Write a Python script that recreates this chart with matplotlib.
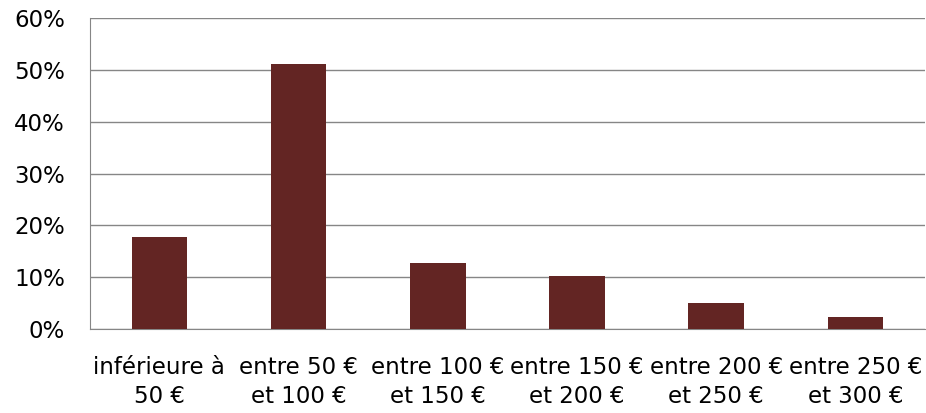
import matplotlib.pyplot as plt
from matplotlib.ticker import PercentFormatter

categories = ['inférieure à\n50 €', 'entre 50 €\net 100 €', 'entre 100 €\net 150 €',
              'entre 150 €\net 200 €', 'entre 200 €\net 250 €', 'entre 250 €\net 300 €']
shares = [17.8, 51.2, 12.7, 10.2, 5.0, 2.4]
yticks = [0, 10, 20, 30, 40, 50, 60]

plt.rcParams['font.family'] = ['DejaVu Sans']

fig = plt.figure(figsize=(9.26, 4.13), dpi=100)
ax = fig.add_axes([0.097, 0.203, 0.902, 0.753])

x = range(len(categories))
ax.bar(x, shares, width=0.4, color='#632523', zorder=3)

ax.set_xlim(-0.5, len(categories) - 0.5)
ax.set_ylim(0, 60)
ax.set_yticks(yticks)
ax.yaxis.set_major_formatter(PercentFormatter(decimals=0))
ax.set_xticks(list(x))
ax.set_xticklabels(categories, fontsize=16.5, linespacing=1.35)
ax.tick_params(axis='y', labelsize=16.5, length=0, pad=18)
ax.tick_params(axis='x', length=0, pad=19)
ax.grid(axis='y', color='#868686', linewidth=1, zorder=0)

for s in ['top', 'right']:
    ax.spines[s].set_visible(False)
ax.spines['left'].set_color('#868686')
ax.spines['bottom'].set_color('#868686')

fig.savefig('out.png', dpi=100)
